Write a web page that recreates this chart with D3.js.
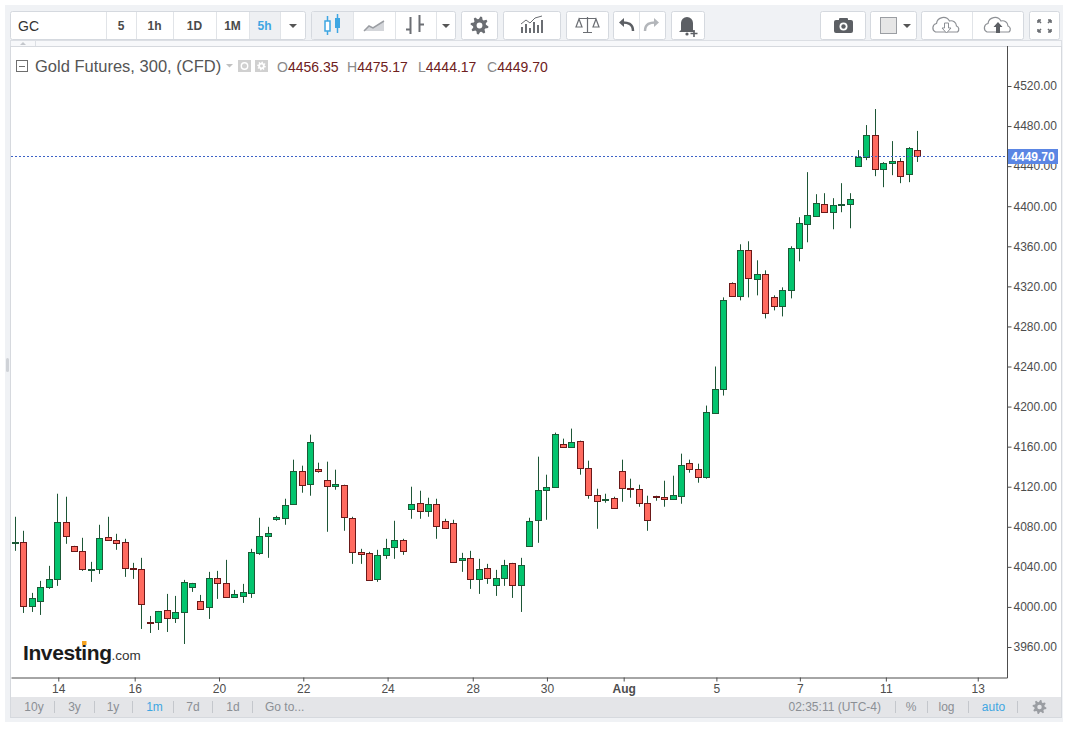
<!DOCTYPE html>
<html>
<head>
<meta charset="utf-8">
<script src="https://cdn.jsdelivr.net/npm/d3@7"></script>
<style>
  body { margin: 0; background: #fff; }
  svg { display: block; font-family: "Liberation Sans", Arial, sans-serif; }
</style>
</head>
<body>
<svg id="chart" width="1065" height="730"></svg>
<script>
// 5h candles, Gold Futures
const OPEN = [4064, 4065, 4001, 4006, 4020, 4028, 4085, 4061, 4056, 4038, 4038, 4070, 4067, 4065, 4038.6, 4038, 3985, 3985, 3997, 3989,
  3995, 4020, 4006, 4000, 4029, 4024, 4010, 4011, 4014, 4054, 4071, 4088, 4089, 4103, 4136, 4123, 4138, 4127, 4121, 4122,
  4089, 4055, 4054, 4028, 4052, 4060, 4067, 4098, 4104, 4096, 4103, 4086, 4084, 4047, 4049, 4028, 4039, 4022, 4029, 4044,
  4022, 4061, 4087, 4117, 4120, 4163, 4160, 4166, 4139, 4112, 4107.3, 4109, 4136, 4119, 4118, 4104, 4111, 4110, 4108, 4111,
  4144, 4138, 4130, 4194, 4218, 4323, 4310, 4356, 4327, 4332, 4309, 4300, 4316, 4358, 4382, 4390, 4402, 4394, 4401, 4402,
  4440, 4449, 4471, 4437, 4443, 4445, 4432, 4456.35];
const HIGH = [4090, 4076, 4014, 4026, 4041, 4113, 4110, 4061, 4069, 4045, 4082, 4090, 4073, 4068, 4044, 4049, 3991, 3996, 4013, 4011,
  4027, 4024, 4012, 4035, 4036, 4047, 4017, 4023, 4058, 4089, 4080, 4091, 4108, 4147, 4141, 4172, 4144, 4145, 4137, 4122,
  4090, 4058, 4055, 4057, 4068, 4086, 4068, 4120, 4116, 4109, 4108, 4088, 4087, 4054, 4056, 4048, 4043, 4037, 4047, 4044,
  4049, 4089, 4150, 4132, 4174, 4168, 4178, 4166, 4146, 4118, 4113, 4110, 4147, 4128, 4122, 4111, 4111, 4126, 4131, 4153,
  4147, 4143, 4201, 4240, 4309, 4324, 4362, 4365, 4346, 4336, 4311, 4319, 4360, 4389, 4434, 4412, 4413, 4408, 4423, 4413,
  4456, 4481, 4497, 4444, 4465, 4448, 4459, 4475.17];
const LOW = [4056, 3994, 3995, 3992, 4018, 4021, 4063, 4056, 4036, 4025, 4033, 4067, 4057, 4030, 4028, 3978, 3974, 3977, 3975, 3984,
  3963, 4015, 3998, 3988, 4008, 4010, 4009, 4004, 4009, 4052, 4049, 4086, 4082, 4103, 4114, 4111, 4134, 4075, 4117, 4076,
  4043, 4043, 4027, 4025, 4048, 4048, 4052, 4088, 4088, 4090, 4068, 4079, 4044, 4035, 4018, 4013, 4023, 4011, 4021, 4009,
  3995, 4061, 4064, 4087, 4120, 4160, 4160, 4132, 4108, 4078, 4104, 4099, 4105, 4109, 4100, 4076, 4106, 4100, 4108, 4103,
  4134, 4124, 4128, 4194, 4211, 4310, 4306, 4309, 4311, 4288, 4296, 4290, 4308, 4345, 4364, 4390, 4394, 4377, 4394, 4378,
  4440, 4446, 4430, 4419, 4431, 4423, 4424, 4444.17];
const CLOSE = [4065, 4001, 4009, 4020, 4028, 4085, 4071, 4056, 4038, 4038.3, 4069, 4067, 4064, 4039, 4038, 4003, 3984.5, 3996, 3989, 3995,
  4025, 4024, 3998, 4029, 4024, 4010, 4013, 4015, 4055, 4071, 4074, 4090, 4102, 4136, 4122, 4165, 4136, 4121, 4123, 4090,
  4055, 4053, 4027, 4052, 4059, 4067, 4056, 4103, 4096, 4103, 4081, 4079, 4045, 4049, 4028, 4038, 4029, 4029, 4042, 4022,
  4042, 4086, 4117, 4120, 4173, 4160, 4165, 4139, 4112, 4106, 4107.7, 4099, 4119, 4118, 4104, 4087, 4110, 4108, 4112, 4142,
  4138, 4130, 4195, 4218, 4306, 4310, 4356, 4328, 4332, 4293, 4300, 4316, 4358, 4383, 4391, 4403, 4394, 4401, 4402, 4407,
  4449, 4471, 4437, 4443, 4445, 4430, 4458, 4449.70];

// date ticks sit between candles, given as fractional candle index
const X_TICK_POS = [5.14, 14.2, 24.2, 34.2, 44.2, 54.3, 63.1, 72.2, 83.2, 93.1, 103.3, 114.2];
const X_TICK_LABELS = ["14", "16", "20", "22", "24", "28", "30", "Aug", "5", "7", "11", "13"];
const Y_TICKS = [3960, 4000, 4040, 4080, 4120, 4160, 4200, 4240, 4280, 4320, 4360, 4400, 4440, 4480, 4520];

const INTERVALS = ["5", "1h", "1D", "1M", "5h"];
const RANGES = ["10y", "3y", "1y", "1m", "7d", "1d"];
const STATUS = ["%", "log", "auto"];

const UP_FILL = "#03c46e", UP_LINE = "#1b5a36";
const DOWN_FILL = "#ff6a5f", DOWN_LINE = "#6b1818";
const WICK = "#1d5636";

function gearPath(cx, cy, ro, ri, teeth) {
  const pts = [];
  const n = teeth * 4;
  for (let k = 0; k < n; k++) {
    const a = ((k + 0.5) / n) * 2 * Math.PI;
    const r = k % 4 < 2 ? ro : ri;
    pts.push([cx + r * Math.cos(a), cy + r * Math.sin(a)]);
  }
  return d3.line()(pts) + "Z";
}

function drawGear(g, cx, cy, ro, fill, hole) {
  g.append("path").attr("d", gearPath(cx, cy, ro, ro * 0.72, 8)).attr("fill", fill);
  g.append("circle").attr("cx", cx).attr("cy", cy).attr("r", ro * 0.32).attr("fill", hole);
}

class CandleChart {
  constructor(svg) {
    this.svg = svg;
    this.plot = { left: 11, right: 1007, top: 46, bottom: 677 };
    this.data = OPEN.map((o, i) => ({ i, o, h: HIGH[i], l: LOW[i], c: CLOSE[i] }));
  }

  buildFrame() {
    const s = this.svg;
    s.append("rect").attr("x", 5).attr("y", 5).attr("width", 1058).attr("height", 717).attr("fill", "#f0f2f5");
    s.append("rect").attr("x", 6).attr("y", 358).attr("width", 3).attr("height", 14).attr("rx", 1.5).attr("fill", "#cfd2d7");
    // strip under toolbar
    s.append("rect").attr("x", 10.5).attr("y", 40.5).attr("width", 1051).attr("height", 6).attr("fill", "#f7f8fa").attr("stroke", "#dcdfe4");
    s.append("path").attr("d", "M20,45 L23,42 L26,45 Z").attr("fill", "#c4c7cc");
    s.append("line").attr("x1", 35.5).attr("x2", 35.5).attr("y1", 41).attr("y2", 46).attr("stroke", "#dcdfe4");
    // chart panel
    s.append("rect").attr("x", 10.5).attr("y", 46.5).attr("width", 1051).attr("height", 671).attr("fill", "#fff").attr("stroke", "#d6d9de");
    s.append("rect").attr("x", 11).attr("y", 697).attr("width", 1050).attr("height", 20).attr("fill", "#e4e5e8");
    return this;
  }

  buildToolbar() {
    const t = this.svg.append("g");
    const group = (x0, x1, seps) => {
      t.append("rect").attr("x", x0 + 0.5).attr("y", 11.5).attr("width", x1 - x0 - 1).attr("height", 28)
        .attr("rx", 2).attr("fill", "#fff").attr("stroke", "#d5d9df");
      (seps || []).forEach((sx) => {
        t.append("line").attr("x1", sx + 0.5).attr("x2", sx + 0.5).attr("y1", 12).attr("y2", 39).attr("stroke", "#e1e4e8");
      });
    };
    const selected = (x0, x1) => {
      t.append("rect").attr("x", x0 + 1).attr("y", 12).attr("width", x1 - x0 - 1).attr("height", 27).attr("fill", "#eef0f3");
    };
    const caret = (cx) => t.append("path").attr("d", `M${cx - 4},24 L${cx + 4},24 L${cx},28 Z`).attr("fill", "#555");

    group(10, 306, [106, 136, 173, 216, 249, 280]);
    selected(249, 280);
    t.append("text").attr("x", 18).attr("y", 31).attr("font-size", 14).attr("fill", "#333").text("GC");
    const centers = [121, 154.5, 194.5, 232.5, 264.5];
    INTERVALS.forEach((lab, k) => {
      t.append("text").attr("x", centers[k]).attr("y", 30).attr("text-anchor", "middle")
        .attr("font-size", 12).attr("font-weight", "bold").attr("fill", k === 4 ? "#3ea6e2" : "#4a4a4a").text(lab);
    });
    caret(293);

    group(311, 456, [353, 395, 436]);
    selected(311, 353);
    // candle icon
    t.append("line").attr("x1", 327.5).attr("x2", 327.5).attr("y1", 16).attr("y2", 35).attr("stroke", "#3ea6e2").attr("stroke-width", 1.5);
    t.append("rect").attr("x", 325).attr("y", 21).attr("width", 5).attr("height", 10).attr("fill", "#fff").attr("stroke", "#3ea6e2").attr("stroke-width", 1.5);
    t.append("line").attr("x1", 337.5).attr("x2", 337.5).attr("y1", 14).attr("y2", 33).attr("stroke", "#3ea6e2").attr("stroke-width", 1.5);
    t.append("rect").attr("x", 335).attr("y", 18).attr("width", 5).attr("height", 10).attr("fill", "#3ea6e2");
    // area icon
    t.append("path").attr("d", "M364,31 L369,26 L373,28 L384,21 L384,31 Z").attr("fill", "#d4d6da");
    t.append("path").attr("d", "M364,31 L369,26 L373,28 L384,21").attr("fill", "none").attr("stroke", "#9a9da2").attr("stroke-width", 1.5);
    // bar icon
    t.append("path").attr("d", "M410.5,17 V34 M406,29.5 H410.5 M419.5,15 V32 M419.5,24.5 H424").attr("stroke", "#6c6f74").attr("stroke-width", 2).attr("fill", "none");
    caret(446);

    group(461, 498);
    drawGear(t, 479.5, 25.5, 9, "#6b6e73", "#fff");

    group(503, 561);
    t.append("path").attr("d", "M522,33 V27 M526,33 V24 M530,33 V28 M534,33 V22 M538,33 V25 M542,33 V20").attr("stroke", "#6b6e73").attr("stroke-width", 2);
    t.append("path").attr("d", "M521,24 L526,20 L530,23 L535,18 L542,16").attr("stroke", "#6b6e73").attr("fill", "none").attr("stroke-width", 1);

    group(566, 609);
    t.append("path").attr("d", "M579,18.5 H596 M587.5,17 V32 M583,32.5 H592 M579,19 L576,27 H582 Z M596,19 L593,27 H599 Z")
      .attr("stroke", "#6b6e73").attr("fill", "none").attr("stroke-width", 1.2);

    group(613, 666, [639]);
    t.append("path").attr("d", "M633,31 C633,24 628,22 621,22.5").attr("stroke", "#5c5f64").attr("stroke-width", 2.5).attr("fill", "none");
    t.append("path").attr("d", "M619,22.5 L624,18 L624,27 Z").attr("fill", "#5c5f64");
    t.append("path").attr("d", "M645,31 C645,24 650,22 657,22.5").attr("stroke", "#b3b6ba").attr("stroke-width", 2.5).attr("fill", "none");
    t.append("path").attr("d", "M659,22.5 L654,18 L654,27 Z").attr("fill", "#b3b6ba");

    group(671, 705);
    t.append("path").attr("d", "M681,30 V23 A6,6 0 0 1 693,23 V30 L695,32 H679 Z").attr("fill", "#5c5f64");
    t.append("circle").attr("cx", 687).attr("cy", 34).attr("r", 1.6).attr("fill", "#5c5f64");
    t.append("path").attr("d", "M694,30 V37 M690.5,33.5 H697.5").attr("stroke", "#5c5f64").attr("stroke-width", 1.6);

    group(820, 866);
    t.append("rect").attr("x", 834).attr("y", 20).attr("width", 19).attr("height", 13).attr("rx", 2).attr("fill", "#5c5f64");
    t.append("rect").attr("x", 839).attr("y", 18).attr("width", 9).attr("height", 4).attr("rx", 1).attr("fill", "#5c5f64");
    t.append("circle").attr("cx", 843.5).attr("cy", 26.5).attr("r", 4).attr("fill", "#fff");
    t.append("circle").attr("cx", 843.5).attr("cy", 26.5).attr("r", 2.2).attr("fill", "#5c5f64");

    group(870, 917);
    t.append("rect").attr("x", 880.5).attr("y", 17.5).attr("width", 16).attr("height", 16).attr("fill", "#e6e6e6").attr("stroke", "#9b9ea3");
    caret(907);

    group(921, 1024, [972]);
    const cloud = "M-11,6 A4.5,4.5 0 0 1 -10,-2.5 A7,7 0 0 1 3,-5 A5.5,5.5 0 0 1 10,0 A3.5,3.5 0 0 1 11,6 Z";
    t.append("path").attr("transform", "translate(946.5,26)").attr("d", cloud).attr("fill", "none").attr("stroke", "#8d9095").attr("stroke-width", 1.2);
    t.append("path").attr("transform", "translate(946.5,26)").attr("d", "M-2,-3 H2 V2 H4.5 L0,7 L-4.5,2 H-2 Z").attr("fill", "#fff").attr("stroke", "#8d9095");
    t.append("path").attr("transform", "translate(998,26)").attr("d", cloud).attr("fill", "none").attr("stroke", "#8d9095").attr("stroke-width", 1.2);
    t.append("path").attr("transform", "translate(998,26)").attr("d", "M-2,7 H2 V1 H4.5 L0,-4 L-4.5,1 H-2 Z").attr("fill", "#5c5f64");

    group(1029, 1060);
    t.append("path").attr("d", "M1038,20 L1041,23 M1038,20 H1041 M1038,20 V23 M1051,20 L1048,23 M1051,20 H1048 M1051,20 V23 M1038,32 L1041,29 M1038,32 H1041 M1038,32 V29 M1051,32 L1048,29 M1051,32 H1048 M1051,32 V29")
      .attr("stroke", "#6b6e73").attr("stroke-width", 1.6).attr("fill", "none");
    return this;
  }

  buildScales() {
    const p = this.plot;
    this.x = d3.scaleLinear().domain([-0.47, 117.67]).range([p.left, p.right]);
    this.y = d3.scaleLinear().domain([3960, 4520]).range([647, 86]);
    return this;
  }

  buildAxes() {
    const p = this.plot;
    const xg = this.svg.append("g").attr("transform", `translate(0,${p.bottom + 0.5})`)
      .call(d3.axisBottom(this.x).tickValues(X_TICK_POS).tickFormat((d, i) => X_TICK_LABELS[i])
        .tickSize(4).tickSizeOuter(0).tickPadding(3));
    xg.select(".domain").attr("stroke", "#4d4d4d");
    xg.selectAll(".tick line").attr("stroke", "#4d4d4d");
    xg.selectAll(".tick text").attr("font-size", 12).attr("fill", "#4d4d4d")
      .attr("font-family", "Liberation Sans, Arial, sans-serif")
      .attr("font-weight", (d, i) => (X_TICK_LABELS[i] === "Aug" ? "bold" : null));

    const yg = this.svg.append("g").attr("transform", `translate(${p.right + 0.5},0)`)
      .call(d3.axisRight(this.y).tickValues(Y_TICKS).tickFormat(d3.format(".2f")).tickSize(4).tickPadding(2));
    yg.select(".domain").remove();
    yg.selectAll(".tick line").attr("stroke", "#4d4d4d");
    yg.selectAll(".tick text").attr("font-size", 12).attr("fill", "#4d4d4d")
      .attr("font-family", "Liberation Sans, Arial, sans-serif");
    this.svg.append("line").attr("x1", p.right + 0.5).attr("x2", p.right + 0.5)
      .attr("y1", p.top).attr("y2", p.bottom + 1).attr("stroke", "#4d4d4d");
    return this;
  }

  buildCandles() {
    const p = this.plot;
    this.svg.append("clipPath").attr("id", "plotClip").append("rect")
      .attr("x", p.left).attr("y", p.top + 1).attr("width", p.right - p.left).attr("height", p.bottom - p.top - 1);
    const g = this.svg.append("g").attr("clip-path", "url(#plotClip)");
    const col = (d) => Math.round(this.x(d.i));
    const candles = g.selectAll(".candle").data(this.data).enter().append("g").attr("class", "candle");
    candles.append("line")
      .attr("x1", (d) => col(d) + 0.5).attr("x2", (d) => col(d) + 0.5)
      .attr("y1", (d) => this.y(d.h)).attr("y2", (d) => this.y(d.l))
      .attr("stroke", WICK);
    candles.append("rect")
      .attr("x", (d) => col(d) - 2.5)
      .attr("y", (d) => Math.round(this.y(Math.max(d.o, d.c))) + 0.5)
      .attr("width", 6)
      .attr("height", (d) => Math.max(1, Math.round(this.y(Math.min(d.o, d.c))) - Math.round(this.y(Math.max(d.o, d.c)))))
      .attr("fill", (d) => (d.c >= d.o ? UP_FILL : DOWN_FILL))
      .attr("stroke", (d) => (d.c >= d.o ? UP_LINE : DOWN_LINE));
    return this;
  }

  buildPriceLine() {
    const p = this.plot;
    const last = CLOSE[CLOSE.length - 1];
    const yy = Math.round(this.y(last)) + 0.5;
    this.svg.append("line").attr("x1", p.left).attr("x2", p.right).attr("y1", yy).attr("y2", yy)
      .attr("stroke", "#3d62c6").attr("stroke-dasharray", "2,2");
    this.svg.append("rect").attr("x", p.right + 1).attr("y", yy - 7.5).attr("width", 50).attr("height", 15).attr("fill", "#5b86e4");
    this.svg.append("text").attr("x", p.right + 26).attr("y", yy + 4.5).attr("text-anchor", "middle")
      .attr("font-size", 12).attr("font-weight", "bold").attr("fill", "#fff").text(d3.format(".2f")(last));
    return this;
  }

  buildLegend() {
    const s = this.svg;
    const n = OPEN.length - 1;
    s.append("rect").attr("x", 16.5).attr("y", 60.5).attr("width", 11).attr("height", 11).attr("fill", "#fff").attr("stroke", "#6e6e6e");
    s.append("line").attr("x1", 19).attr("x2", 25).attr("y1", 66.5).attr("y2", 66.5).attr("stroke", "#6e6e6e");
    s.append("text").attr("x", 35).attr("y", 72).attr("font-size", 16.5).attr("fill", "#555").text("Gold Futures, 300, (CFD)");
    s.append("path").attr("d", "M226,64 L233,64 L229.5,67.5 Z").attr("fill", "#c0c0c0");
    s.append("rect").attr("x", 238).attr("y", 60).attr("width", 13).attr("height", 12).attr("fill", "#d0d0d0");
    s.append("circle").attr("cx", 244.5).attr("cy", 66).attr("r", 3.2).attr("fill", "none").attr("stroke", "#fff").attr("stroke-width", 1.4);
    s.append("rect").attr("x", 255).attr("y", 60).attr("width", 13).attr("height", 12).attr("fill", "#d0d0d0");
    drawGear(s, 261.5, 66, 4.5, "#fff", "#d0d0d0");
    const fmt = d3.format(".2f");
    const items = [["O", OPEN[n], 277], ["H", HIGH[n], 347], ["L", LOW[n], 418], ["C", CLOSE[n], 487]];
    items.forEach(([lab, v, x0]) => {
      const t = s.append("text").attr("x", x0).attr("y", 72).attr("font-size", 14);
      t.append("tspan").attr("fill", "#8a8a8a").text(lab);
      t.append("tspan").attr("fill", "#6e2020").text(fmt(v));
    });
    // logo
    const logo = s.append("text").attr("x", 23).attr("y", 660).attr("fill", "#1b1b1b");
    logo.append("tspan").attr("font-size", 21).attr("font-weight", "bold").attr("letter-spacing", -0.4).text("Investing");
    logo.append("tspan").attr("font-size", 13.5).attr("fill", "#333").text(".com");
    const node = logo.node();
    const ix = node.getStartPositionOfChar(6);
    const iw = node.getExtentOfChar(6).width;
    s.append("rect").attr("x", ix.x + iw / 2 - 2).attr("y", 641).attr("width", 4.5).attr("height", 4).attr("fill", "#f6a21e");
    return this;
  }

  buildStatusBar() {
    const s = this.svg;
    const grey = "#8b8f95", blue = "#3ea6e2";
    const rx = [34, 74.5, 113, 154.5, 193, 233];
    RANGES.forEach((lab, k) => {
      s.append("text").attr("x", rx[k]).attr("y", 711).attr("text-anchor", "middle").attr("font-size", 12)
        .attr("fill", lab === "1m" ? blue : grey).text(lab);
    });
    s.append("text").attr("x", 265).attr("y", 711).attr("font-size", 12).attr("fill", grey).text("Go to...");
    [54, 94, 132, 173, 212, 252, 895, 927, 968, 1017].forEach((sx) => {
      s.append("line").attr("x1", sx + 0.5).attr("x2", sx + 0.5).attr("y1", 701).attr("y2", 713).attr("stroke", "#c4c7cc");
    });
    s.append("text").attr("x", 881).attr("y", 711).attr("text-anchor", "end").attr("font-size", 12).attr("fill", grey).text("02:35:11 (UTC-4)");
    const sx = [911, 946.5, 993.5];
    STATUS.forEach((lab, k) => {
      s.append("text").attr("x", sx[k]).attr("y", 711).attr("text-anchor", "middle").attr("font-size", 12)
        .attr("fill", lab === "auto" ? blue : grey).text(lab);
    });
    drawGear(s, 1039.5, 707, 7, "#9a9da2", "#e4e5e8");
    return this;
  }

  build() {
    return this.svg;
  }
}

const chart = new CandleChart(d3.select("#chart"));
chart.buildFrame().buildToolbar().buildScales().buildCandles().buildAxes()
  .buildPriceLine().buildLegend().buildStatusBar().build();
</script>
</body>
</html>
